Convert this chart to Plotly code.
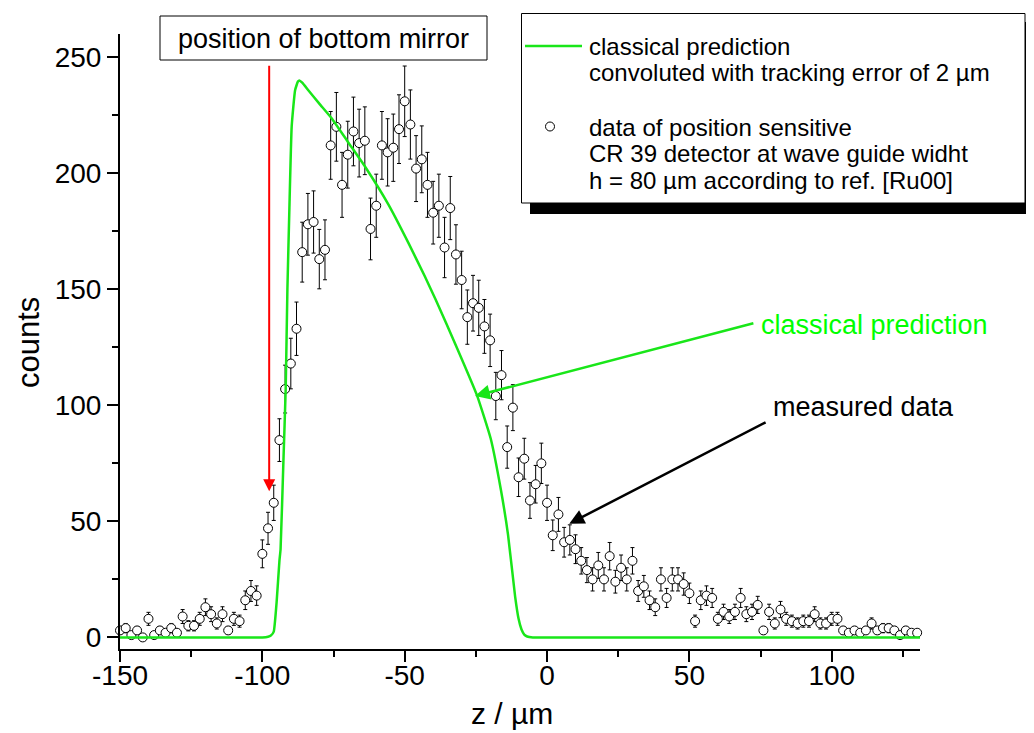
import plotly.graph_objects as go

# ---- measured data (z in µm, counts, error) ----
z_data = [-150, -148, -146, -144, -142, -140, -138, -136, -134, -132, -130, -128, -126, -124, -122,
          -120, -118, -116, -114, -112, -110, -108, -106, -104, -102, -100, -98, -96, -94, -92,
          -90, -88, -86, -84, -82, -80, -78, -76, -74, -72, -70, -68, -66, -64, -62,
          -60, -58, -56, -54, -52, -50, -48, -46, -44, -42, -40, -38, -36, -34, -32,
          -30, -28, -26, -24, -22, -20, -18, -16, -14, -12, -10, -8, -6, -4, -2,
          0, 2, 4, 6, 8, 10, 12, 14, 16, 18, 20, 22, 24, 26, 28,
          30, 32, 34, 36, 38, 40, 42, 44, 46, 48, 50, 52, 54, 56, 58,
          60, 62, 64, 66, 68, 70, 72, 74, 76, 78, 80, 82, 84, 86, 88,
          90, 92, 94, 96, 98, 100, 102, 104, 106, 108, 110, 112, 114, 116, 118,
          120, 122, 124, 126, 128, 130]
counts = [3, 4, 1, 3, 0, 8, 1, 3, 2, 4, 2, 9, 5, 5, 8,
          13, 10, 6, 10, 3, 8, 7, 16, 20, 18, 36, 47, 58, 85, 107,
          118, 133, 166, 178, 179, 163, 167, 212, 220, 195, 208, 218, 213, 214, 176,
          186, 212, 209, 211, 219, 231, 221, 202, 206, 195, 183, 186, 168, 185, 165,
          154, 138, 144, 142, 134, 128, 104, 113, 82, 99, 69, 77, 59, 66, 75,
          58, 44, 53, 41, 42, 38, 33, 29, 25, 31, 25, 35, 24, 30, 25,
          33, 20, 22, 16, 13, 25, 17, 25, 25, 23, 19, 7, 16, 18, 17,
          8, 11, 9, 11, 17, 10, 11, 14, 3, 11, 6, 12, 8, 7, 6,
          7, 7, 10, 6, 6, 8, 8, 3, 2, 3, 2, 3, 6, 3, 4,
          4, 3, 1, 3, 2, 2]
errors = [1.7, 2.0, 1.0, 1.7, 0.0, 2.8, 1.0, 1.7, 1.4, 2.0, 1.4, 3.0, 2.2, 2.2, 2.8,
          3.6, 3.2, 2.4, 3.2, 1.7, 2.8, 2.6, 4.0, 4.5, 4.2, 6.0, 6.9, 7.6, 9.2, 10.3,
          10.9, 11.5, 12.9, 13.3, 13.4, 12.8, 12.9, 14.6, 14.8, 14.0, 14.4, 14.8, 14.6, 14.6, 13.3,
          13.6, 14.6, 14.5, 14.5, 14.8, 15.2, 14.9, 14.2, 14.4, 14.0, 13.5, 13.6, 13.0, 13.6, 12.8,
          12.4, 11.7, 12.0, 11.9, 11.6, 11.3, 10.2, 10.6, 9.1, 9.9, 8.3, 8.8, 7.7, 8.1, 8.7,
          7.6, 6.6, 7.3, 6.4, 6.5, 6.2, 5.7, 5.4, 5.0, 5.6, 5.0, 5.9, 4.9, 5.5, 5.0,
          5.7, 4.5, 4.7, 4.0, 3.6, 5.0, 4.1, 5.0, 5.0, 4.8, 4.4, 2.6, 4.0, 4.2, 4.1,
          2.8, 3.3, 3.0, 3.3, 4.1, 3.2, 3.3, 3.7, 1.7, 3.3, 2.4, 3.5, 2.8, 2.6, 2.4,
          2.6, 2.6, 3.2, 2.4, 2.4, 2.8, 2.8, 1.7, 1.4, 1.7, 1.4, 1.7, 2.4, 1.7, 2.0,
          2.0, 1.7, 1.0, 1.7, 1.4, 1.4]

# ---- classical prediction curve ----
curve_z = [-150, -100, -98, -97, -96, -95, -94, -93.6, -92.6, -91.8, -91.2, -90.5, -89.7, -88.5,
           -87.5, -87, -86, -84, -80, -75.6, -70, -63.9, -55.7, -48.7, -42.9, -39.1, -31.9,
           -24.6, -19.8, -16.2, -13.7, -11.2, -10, -9, -8, -7, -5, 0, 131]
curve_counts = [0, 0, 0.3, 0.8, 2.5, 15, 33, 38, 76, 107, 150, 185, 220, 235.8,
                239.5, 240, 239, 236, 230, 223.6, 213.6, 202.8, 186.5, 170, 155.5, 145.5, 125.5,
                104.3, 85.7, 63.5, 44.2, 17.5, 8, 3.5, 1.2, 0.4, 0, 0, 0]

x_ticks = [-150, -100, -50, 0, 50, 100]
y_ticks = [0, 50, 100, 150, 200, 250]

GREEN = "#19e619"
FONT = "Arial, Liberation Sans, sans-serif"

# page offset (body margin) and plot area in page pixels
OFF = 8
PAGE_W, PAGE_H = 1034, 733
W, H = PAGE_W - OFF, PAGE_H - OFF
L, R, T, B = 120, 920, 34, 649


def fx(p):
    return (p - L) / (R - L)


def fy(p):
    return (B - p) / (B - T)


fig = go.Figure()
fig.add_trace(go.Scatter(
    x=z_data, y=counts, mode="markers",
    marker=dict(symbol="circle", size=9, color="white", line=dict(color="black", width=1)),
    error_y=dict(type="data", array=errors, visible=True, color="black", thickness=1, width=2),
    showlegend=False, cliponaxis=False,
))
fig.add_trace(go.Scatter(
    x=curve_z, y=curve_counts, mode="lines",
    line=dict(color=GREEN, width=2.5, shape="spline", smoothing=0.4), showlegend=False,
))

shapes = []
annotations = []

# legend box with shadow
shapes.append(dict(type="rect", xref="paper", yref="paper", x0=fx(530), x1=fx(1040), y0=fy(214), y1=fy(203),
                   fillcolor="black", line=dict(width=0), layer="above"))
shapes.append(dict(type="rect", xref="paper", yref="paper", x0=fx(1025), x1=fx(1040), y0=fy(214), y1=fy(22),
                   fillcolor="black", line=dict(width=0), layer="above"))
shapes.append(dict(type="rect", xref="paper", yref="paper", x0=fx(521.5), x1=fx(1025), y0=fy(203), y1=fy(13.5),
                   fillcolor="white", line=dict(color="black", width=1), layer="above"))
shapes.append(dict(type="line", xref="paper", yref="paper", x0=fx(525), x1=fx(582), y0=fy(46), y1=fy(46),
                   line=dict(color=GREEN, width=2.5), layer="above"))
shapes.append(dict(type="circle", xref="paper", yref="paper", x0=fx(545.5), x1=fx(554.5), y0=fy(131), y1=fy(122),
                   fillcolor="white", line=dict(color="black", width=1), layer="above"))

legend_lines = [
    ("classical prediction", 46),
    ("convoluted with tracking error of 2 µm", 73),
    ("data of position sensitive", 127),
    ("CR 39 detector at wave guide widht", 154),
    ("h = 80 µm according to ref. [Ru00]", 180),
]
for txt, ypix in legend_lines:
    annotations.append(dict(text=txt, xref="paper", yref="paper", x=fx(587), y=fy(ypix),
                            xanchor="left", yanchor="middle", showarrow=False,
                            font=dict(family=FONT, size=24, color="black")))

# "position of bottom mirror" box
shapes.append(dict(type="rect", xref="paper", yref="paper", x0=fx(160), x1=fx(487), y0=fy(60), y1=fy(16),
                   fillcolor="white", line=dict(color="black", width=1), layer="above"))
annotations.append(dict(text="position of bottom mirror", xref="paper", yref="paper", x=fx(323.5), y=fy(39),
                        xanchor="center", yanchor="middle", showarrow=False,
                        font=dict(family=FONT, size=27, color="black")))

# arrows
annotations.append(dict(text="", x=-97.6, y=63, ax=-97.6, ay=247, xref="x", yref="y", axref="x", ayref="y",
                        showarrow=True, arrowhead=2, arrowsize=1.2, arrowwidth=2, arrowcolor="#ff0000"))
annotations.append(dict(text="", x=-25.3, y=104, ax=73, ay=135.5, xref="x", yref="y", axref="x", ayref="y",
                        showarrow=True, arrowhead=2, arrowsize=1.2, arrowwidth=2.5, arrowcolor=GREEN))
annotations.append(dict(text="", x=7.8, y=49, ax=77.3, ay=93, xref="x", yref="y", axref="x", ayref="y",
                        showarrow=True, arrowhead=2, arrowsize=1.2, arrowwidth=2.5, arrowcolor="black"))
annotations.append(dict(text="classical prediction", xref="paper", yref="paper", x=fx(759), y=fy(325),
                        xanchor="left", yanchor="middle", showarrow=False,
                        font=dict(family=FONT, size=27, color="#00ff00")))
annotations.append(dict(text="measured data", xref="paper", yref="paper", x=fx(771), y=fy(407),
                        xanchor="left", yanchor="middle", showarrow=False,
                        font=dict(family=FONT, size=27, color="black")))

# axis titles
annotations.append(dict(text="counts", xref="paper", yref="paper", x=fx(28), y=fy(343), textangle=-90,
                        xanchor="center", yanchor="middle", showarrow=False,
                        font=dict(family=FONT, size=31, color="black")))
annotations.append(dict(text="z / µm", xref="paper", yref="paper", x=fx(512), y=fy(713),
                        xanchor="center", yanchor="middle", showarrow=False, borderpad=0,
                        font=dict(family=FONT, size=30, color="black")))

axis_common = dict(showline=True, linecolor="black", linewidth=2, ticks="outside", ticklen=11,
                   tickwidth=2, tickcolor="black", showgrid=False, zeroline=False,
                   tickfont=dict(family=FONT, size=28, color="black"))
fig.update_layout(
    width=W, height=H,
    margin=dict(l=L - OFF, r=W - (R - OFF), t=T - OFF, b=H - (B - OFF), autoexpand=False),
    paper_bgcolor="white", plot_bgcolor="white",
    xaxis=dict(range=[-150, 131], tickvals=x_ticks, ticktext=[str(v) for v in x_ticks],
               ticklabelstandoff=-11,
               minor=dict(tickvals=[-125, -75, -25, 25, 75, 125], ticklen=6, tickwidth=2,
                          tickcolor="black", ticks="outside"),
               **axis_common),
    yaxis=dict(range=[-5, 260], tickvals=y_ticks, ticktext=[str(v) for v in y_ticks],
               minor=dict(tickvals=[25, 75, 125, 175, 225], ticklen=6, tickwidth=2,
                          tickcolor="black", ticks="outside"),
               **axis_common),
    shapes=shapes, annotations=annotations,
)

fig.write_html("out.html")
